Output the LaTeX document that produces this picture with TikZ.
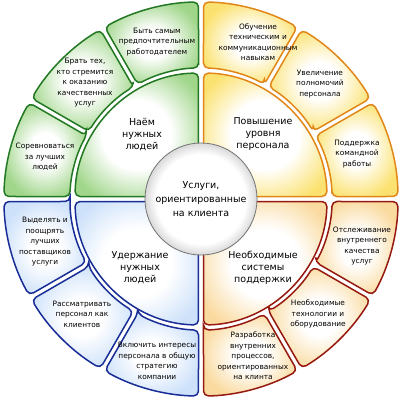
\documentclass[tikz,border=0pt]{standalone}
\usepackage{fontspec}
\setmainfont{DejaVu Sans}
\usepackage{tikz}

\definecolor{grnline}{RGB}{35,120,35}
\definecolor{grnfill}{RGB}{160,214,138}
\definecolor{orgline}{RGB}{225,135,25}
\definecolor{orgfill}{RGB}{251,226,112}
\definecolor{bluline}{RGB}{25,45,150}
\definecolor{blufill}{RGB}{205,225,250}
\definecolor{redline}{RGB}{150,25,15}
\definecolor{redfill}{RGB}{250,218,158}
\pgfdeclareradialshading{hubshade}{\pgfpoint{0bp}{0bp}}{color(0bp)=(white); color(20bp)=(white); color(25bp)=(black!15); color(50bp)=(black!15)}
\pgfdeclareradialshading{grnshade}{\pgfpoint{0bp}{0bp}}{color(0bp)=(white); color(9bp)=(white); color(27bp)=(grnfill); color(50bp)=(grnfill)}
\pgfdeclareradialshading{orgshade}{\pgfpoint{0bp}{0bp}}{color(0bp)=(white); color(9bp)=(white); color(27bp)=(orgfill); color(50bp)=(orgfill)}
\pgfdeclareradialshading{blushade}{\pgfpoint{0bp}{0bp}}{color(0bp)=(white); color(9bp)=(white); color(27bp)=(blufill); color(50bp)=(blufill)}
\pgfdeclareradialshading{redshade}{\pgfpoint{0bp}{0bp}}{color(0bp)=(white); color(9bp)=(white); color(27bp)=(redfill); color(50bp)=(redfill)}
\pgfdeclareradialshading{grnpale}{\pgfpoint{0bp}{0bp}}{color(0bp)=(white); color(14bp)=(white); color(30bp)=(grnfill); color(50bp)=(grnfill)}
\pgfdeclareradialshading{orgpale}{\pgfpoint{0bp}{0bp}}{color(0bp)=(white); color(14bp)=(white); color(30bp)=(orgfill); color(50bp)=(orgfill)}
\pgfdeclareradialshading{blupale}{\pgfpoint{0bp}{0bp}}{color(0bp)=(white); color(14bp)=(white); color(30bp)=(blufill); color(50bp)=(blufill)}
\pgfdeclareradialshading{redpale}{\pgfpoint{0bp}{0bp}}{color(0bp)=(white); color(14bp)=(white); color(30bp)=(redfill); color(50bp)=(redfill)}

\begin{document}
\begin{tikzpicture}[x=1pt,y=1pt,
  grnseg/.style={draw=grnline, shading=grnshade, line width=1.5, rounded corners=5},
  orgseg/.style={draw=orgline, shading=orgshade, line width=1.5, rounded corners=5},
  bluseg/.style={draw=bluline, shading=blushade, line width=1.5, rounded corners=5},
  redseg/.style={draw=redline, shading=redshade, line width=1.5, rounded corners=5},
  lbl/.style={font=\fontsize{7.4}{10.5}\selectfont, align=center, inner sep=0},
  mainlbl/.style={font=\fontsize{9.5}{12}\selectfont, align=center, inner sep=0}]
\useasboundingbox (-201,-201) rectangle (202,199);
% outer ring
\shadedraw[grnseg] (91.09:131) -- (90.73:197) arc[start angle=90.73, end angle=119.27, radius=197] -- (118.91:131) arc[start angle=118.91, end angle=91.09, radius=131] -- cycle;
\shadedraw[grnseg] (121.09:131) -- (120.73:197) arc[start angle=120.73, end angle=149.27, radius=197] -- (148.91:131) arc[start angle=148.91, end angle=121.09, radius=131] -- cycle;
\shadedraw[grnseg] (151.09:131) -- (150.73:197) arc[start angle=150.73, end angle=179.27, radius=197] -- (178.91:131) arc[start angle=178.91, end angle=151.09, radius=131] -- cycle;
\shadedraw[orgseg] (1.09:131) -- (0.73:197) arc[start angle=0.73, end angle=29.27, radius=197] -- (28.91:131) arc[start angle=28.91, end angle=1.09, radius=131] -- cycle;
\shadedraw[orgseg] (31.09:131) -- (30.73:197) arc[start angle=30.73, end angle=59.27, radius=197] -- (58.91:131) arc[start angle=58.91, end angle=31.09, radius=131] -- cycle;
\shadedraw[orgseg] (61.09:131) -- (60.73:197) arc[start angle=60.73, end angle=89.27, radius=197] -- (88.91:131) arc[start angle=88.91, end angle=61.09, radius=131] -- cycle;
\shadedraw[bluseg] (181.09:131) -- (180.73:197) arc[start angle=180.73, end angle=209.27, radius=197] -- (208.91:131) arc[start angle=208.91, end angle=181.09, radius=131] -- cycle;
\shadedraw[bluseg] (211.09:131) -- (210.73:197) arc[start angle=210.73, end angle=239.27, radius=197] -- (238.91:131) arc[start angle=238.91, end angle=211.09, radius=131] -- cycle;
\shadedraw[bluseg] (241.09:131) -- (240.73:197) arc[start angle=240.73, end angle=269.27, radius=197] -- (268.91:131) arc[start angle=268.91, end angle=241.09, radius=131] -- cycle;
\shadedraw[redseg] (271.09:131) -- (270.73:197) arc[start angle=270.73, end angle=299.27, radius=197] -- (298.91:131) arc[start angle=298.91, end angle=271.09, radius=131] -- cycle;
\shadedraw[redseg] (301.09:131) -- (300.73:197) arc[start angle=300.73, end angle=329.27, radius=197] -- (328.91:131) arc[start angle=328.91, end angle=301.09, radius=131] -- cycle;
\shadedraw[redseg] (331.09:131) -- (330.73:197) arc[start angle=330.73, end angle=359.27, radius=197] -- (358.91:131) arc[start angle=358.91, end angle=331.09, radius=131] -- cycle;
% inner sectors
\shadedraw[grnseg, shading=grnpale] (92.87:50) -- (91.14:126) arc[start angle=91.14, end angle=178.86, radius=126] -- (177.13:50) arc[start angle=177.13, end angle=92.87, radius=50] -- cycle;
\shadedraw[orgseg, shading=orgpale] (2.87:50) -- (1.14:126) arc[start angle=1.14, end angle=88.86, radius=126] -- (87.13:50) arc[start angle=87.13, end angle=2.87, radius=50] -- cycle;
\shadedraw[bluseg, shading=blupale] (182.87:50) -- (181.14:126) arc[start angle=181.14, end angle=268.86, radius=126] -- (267.13:50) arc[start angle=267.13, end angle=182.87, radius=50] -- cycle;
\shadedraw[redseg, shading=redpale] (272.87:50) -- (271.14:126) arc[start angle=271.14, end angle=358.86, radius=126] -- (357.13:50) arc[start angle=357.13, end angle=272.87, radius=50] -- cycle;
% hub
\node[circle, minimum size=112, draw=black!55, line width=0.8, shading=hubshade, font=\fontsize{9.5}{14}\selectfont, align=center] (hub) at (0,0) {Услуги,\\ориентированные\\на клиента};
% labels
\node[mainlbl] (hire) at (-59,64) {Наём\\нужных\\людей};
\node[mainlbl] (raise) at (62,65) {Повышение\\уровня\\персонала};
\node[mainlbl] (keep) at (-61,-69) {Удержание\\нужных\\людей};
\node[mainlbl] (supp) at (62,-69) {Необходимые\\системы\\поддержки};
\node[lbl] (best) at (-44,157) {Быть самым\\предпочтительным\\работодателем};
\node[lbl] (take) at (-116,116) {Брать тех,\\кто стремится\\к оказанию\\качественных\\услуг};
\node[lbl] (comp) at (-156,42) {Соревноваться\\за лучших\\людей};
\node[lbl] (train) at (57,157) {Обучение\\техническим и\\коммуникационным\\навыкам};
\node[lbl] (power) at (119,115) {Увеличение\\полномочий\\персонала};
\node[lbl] (team) at (156,45) {Поддержка\\командной\\работы};
\node[lbl] (award) at (-156,-43) {Выделять и\\поощрять\\лучших\\поставщиков\\услуги};
\node[lbl] (client) at (-119,-115) {Рассматривать\\персонал как\\клиентов};
\node[lbl] (strat) at (-44,-162) {Включить интересы\\персонала в общую\\стратегию\\компании};
\node[lbl] (track) at (161,-47) {Отслеживание\\внутреннего\\качества\\услуг};
\node[lbl] (tech) at (117,-115) {Необходимые\\технологии и\\оборудование};
\node[lbl] (proc) at (52,-157) {Разработка\\внутренних\\процессов,\\ориентированных\\на клинта};
\end{tikzpicture}
\end{document}
